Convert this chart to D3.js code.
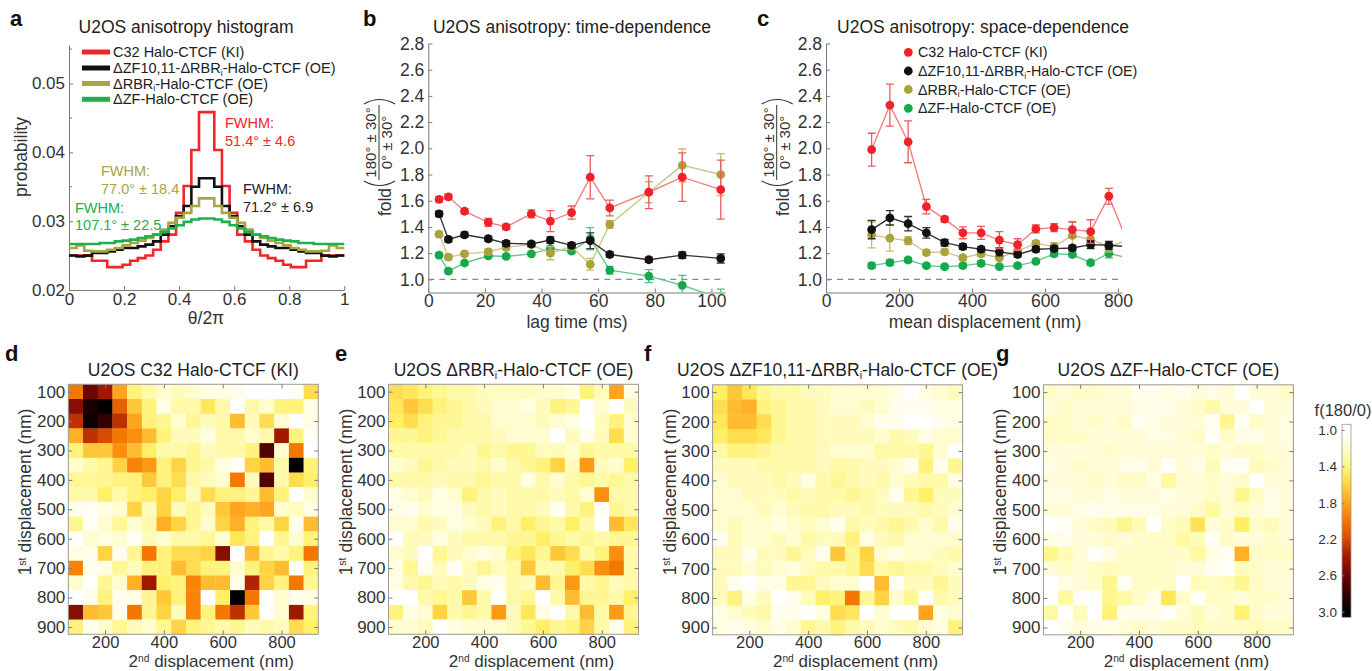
<!DOCTYPE html>
<html><head><meta charset="utf-8">
<script src="https://cdn.jsdelivr.net/npm/d3@7"></script>
<style>
body{margin:0;background:#fff}
svg{display:block}
text{font-family:"Liberation Sans",Arial,Helvetica,sans-serif}
</style>
</head><body>
<svg id="fig" width="1372" height="671"></svg>
<script>
// ---------------- DATA ----------------
// Panel a: histogram (36 bins over theta/2pi in [0,1])
const histRed = [0.02502,0.02502,0.02502,0.02424,0.02424,0.02332,0.02332,0.02366,0.02424,0.02463,0.02502,0.02585,0.02707,0.02805,0.03122,0.03512,0.04034,0.04585,
                 0.04585,0.04034,0.03512,0.03122,0.02805,0.02707,0.02585,0.02502,0.02463,0.02424,0.02366,0.02332,0.02332,0.02424,0.02424,0.02502,0.02502,0.02502];
const histBlack = [0.02502,0.02488,0.02500,0.02537,0.02537,0.02561,0.02585,0.02610,0.02610,0.02634,0.02659,0.02707,0.02805,0.02927,0.03073,0.03220,0.03500,0.03624,
                   0.03624,0.03500,0.03220,0.03073,0.02927,0.02805,0.02707,0.02659,0.02634,0.02610,0.02610,0.02585,0.02561,0.02537,0.02537,0.02500,0.02488,0.02502];
const histOlive = [0.02610,0.02649,0.02570,0.02561,0.02561,0.02585,0.02610,0.02649,0.02683,0.02717,0.02756,0.02805,0.02878,0.02976,0.03049,0.03120,0.03220,0.03332,
                   0.03332,0.03220,0.03120,0.03049,0.02976,0.02878,0.02805,0.02756,0.02717,0.02683,0.02649,0.02610,0.02585,0.02561,0.02561,0.02570,0.02649,0.02610];
const histGreen = [0.02668,0.02668,0.02668,0.02668,0.02683,0.02683,0.02707,0.02717,0.02732,0.02756,0.02780,0.02805,0.02844,0.02893,0.02941,0.02990,0.03024,0.03039,
                   0.03039,0.03024,0.02990,0.02941,0.02893,0.02844,0.02805,0.02780,0.02756,0.02732,0.02717,0.02707,0.02683,0.02683,0.02668,0.02668,0.02668,0.02668];
const histXTicks = [0, 0.2, 0.4, 0.6, 0.8, 1];
const histYTicks = [0.02, 0.03, 0.04, 0.05];

// Panel b: time dependence
const lagTimes = [3.8, 7.1, 12.8, 21.2, 27.5, 36.4, 43.1, 50.6, 57.2, 64.1, 77.9, 89.7, 103.3];
const redB = [1.61,1.63,1.52,1.435,1.40,1.50,1.445,1.51,1.78,1.545,1.665,1.78,1.685];
const redBErr = [0.02,0.02,0.02,0.03,0.02,0.03,0.08,0.05,0.165,0.06,0.125,0.185,0.225];
const blackB = [1.50,1.305,1.34,1.31,1.275,1.27,1.30,1.26,1.295,1.19,1.15,1.185,1.16];
const blackBErr = [0.02,0.02,0.02,0.02,0.02,0.02,0.025,0.02,0.06,0.02,0.02,0.025,0.035];
const oliveB = [1.345,1.17,1.195,1.21,1.245,1.265,1.20,1.25,1.115,1.42,1.665,1.87,1.80];
const oliveBErr = [0.02,0.02,0.02,0.02,0.02,0.02,0.05,0.02,0.045,0.03,0.08,0.125,0.16];
const greenB = [1.185,1.063,1.125,1.18,1.175,1.195,1.235,1.215,1.31,1.07,1.025,0.955,0.855];
const greenBErr = [0.015,0.015,0.015,0.015,0.015,0.015,0.015,0.015,0.085,0.03,0.05,0.075,0.07];
const lagTicks = [0, 20, 40, 60, 80, 100];
const foldTicks = [1.0, 1.2, 1.4, 1.6, 1.8, 2.0, 2.2, 2.4, 2.6, 2.8];

// Panel c: space dependence
const dispC = [125,175,225,275,325,375,425,475,525,575,625,675,725,775,825];
const redC = [1.99,2.33,2.05,1.555,1.46,1.355,1.355,1.30,1.265,1.385,1.395,1.38,1.365,1.635,1.29];
const redCErr = [0.125,0.16,0.16,0.055,0.02,0.045,0.05,0.065,0.045,0.03,0.03,0.06,0.09,0.06,0.05];
const blackC = [1.38,1.47,1.425,1.355,1.28,1.25,1.23,1.21,1.19,1.23,1.235,1.24,1.265,1.26,1.25];
const blackCErr = [0.07,0.055,0.055,0.04,0.025,0.02,0.02,0.03,0.02,0.02,0.02,0.02,0.03,0.03,0.03];
const oliveC = [1.34,1.315,1.295,1.205,1.21,1.165,1.195,1.165,1.215,1.275,1.25,1.335,1.305,1.25,1.30];
const oliveCErr = [0.1,0.1,0.03,0.02,0.02,0.02,0.02,0.02,0.02,0.02,0.03,0.1,0.06,0.04,0.04];
const greenC = [1.105,1.128,1.148,1.105,1.097,1.105,1.122,1.097,1.105,1.137,1.195,1.19,1.127,1.20,1.165];
const greenCErr = [0.02,0.02,0.02,0.015,0.015,0.015,0.02,0.015,0.015,0.015,0.02,0.02,0.02,0.035,0.02];
const dispTicks = [0, 200, 400, 600, 800];

// Heatmaps (rows: 1st displacement 100..900, cols: 2nd displacement 100..900)
const dispBins = [100,150,200,250,300,350,400,450,500,550,600,650,700,750,800,850,900];
const heatD = [
 [2.0,2.6,2.4,1.8,1.4,1.3,1.2,1.25,1.2,1.15,1.15,1.1,1.0,1.0,1.0,1.05,1.55],
 [2.5,2.9,3.0,2.1,1.65,1.4,1.15,1.3,1.3,1.5,1.3,1.0,1.3,1.2,1.4,1.4,1.15],
 [2.3,2.95,2.8,2.3,1.8,1.4,1.35,1.2,1.35,1.25,1.3,1.7,1.25,1.55,1.2,1.0,1.15],
 [1.75,2.3,2.2,2.0,1.9,1.7,1.4,1.25,1.25,1.15,1.3,1.3,1.2,1.3,2.4,1.4,1.05],
 [1.4,1.65,1.65,1.9,1.7,1.45,1.3,1.3,1.35,1.25,1.3,1.3,1.4,2.7,1.2,2.0,1.0],
 [1.2,1.3,1.35,1.6,1.95,1.85,1.4,1.6,1.35,1.3,1.15,1.05,1.6,1.7,1.3,3.0,1.4],
 [1.35,1.35,1.35,1.4,1.4,1.65,1.4,1.55,1.3,1.25,1.2,2.0,1.25,2.7,1.3,1.55,1.45],
 [1.3,1.3,1.45,1.3,1.4,1.45,1.6,1.45,1.25,1.55,1.4,1.4,1.35,1.7,1.4,1.0,1.2],
 [1.1,1.05,1.15,1.2,1.6,1.25,1.6,1.25,1.35,1.25,1.65,1.8,1.75,1.8,1.2,1.25,1.15],
 [1.35,1.05,1.2,1.35,1.2,1.3,1.75,1.6,1.35,1.2,1.6,1.75,1.4,1.3,1.6,1.1,1.7],
 [1.0,1.2,1.15,1.2,1.05,1.25,1.2,1.3,1.3,1.35,1.2,1.5,1.4,1.0,1.35,1.2,1.4],
 [1.15,1.1,1.6,1.1,1.35,2.0,1.4,1.55,1.55,1.6,2.5,1.0,1.7,1.35,1.3,1.4,2.0],
 [1.95,1.1,1.15,1.35,1.25,1.4,1.4,1.7,1.55,1.4,1.4,1.2,1.4,1.6,1.7,1.05,1.4],
 [1.2,1.0,1.35,1.2,1.75,2.4,1.45,1.4,1.95,1.7,1.7,1.15,2.35,1.6,1.4,2.0,1.35],
 [1.0,1.1,1.4,1.1,1.15,1.35,1.65,1.4,1.95,1.0,1.45,3.0,2.0,1.0,1.2,1.1,1.15],
 [2.5,1.7,1.65,1.1,2.0,1.35,1.6,1.25,1.95,1.4,2.0,2.3,1.65,1.0,1.2,2.4,1.4],
 [1.4,1.1,1.2,1.35,1.25,1.2,1.35,1.6,1.4,1.35,1.3,1.35,1.25,1.3,1.25,1.55,1.45]
];
const heatE = [
 [1.55,1.5,1.4,1.35,1.3,1.3,1.25,1.25,1.25,1.25,1.2,1.2,1.15,1.4,1.25,1.8,1.15],
 [1.5,1.65,1.55,1.4,1.35,1.3,1.25,1.2,1.2,1.15,1.25,1.4,1.35,1.0,1.2,1.0,1.25],
 [1.45,1.55,1.4,1.35,1.35,1.3,1.3,1.2,1.2,1.2,1.25,1.2,1.15,1.0,1.25,1.4,1.2],
 [1.35,1.35,1.4,1.35,1.3,1.3,1.3,1.25,1.2,1.2,1.2,1.0,1.25,1.1,1.25,1.55,1.2],
 [1.3,1.3,1.3,1.3,1.3,1.25,1.35,1.3,1.35,1.35,1.25,1.25,1.2,1.35,1.3,1.3,1.3],
 [1.2,1.25,1.35,1.3,1.25,1.25,1.3,1.2,1.3,1.35,1.4,1.6,1.25,1.85,1.25,1.2,1.45],
 [1.3,1.3,1.3,1.25,1.3,1.3,1.35,1.3,1.3,1.15,1.3,1.2,1.3,1.35,1.3,1.35,1.3],
 [1.15,1.2,1.25,1.15,1.2,1.4,1.3,1.25,1.3,1.3,1.3,1.25,1.3,1.2,1.9,1.3,1.3],
 [1.15,1.1,1.2,1.15,1.15,1.25,1.3,1.25,1.3,1.3,1.25,1.1,1.3,1.4,1.05,1.35,1.3],
 [1.2,1.2,1.3,1.25,1.15,1.2,1.25,1.4,1.3,1.45,1.35,1.3,1.45,1.3,1.0,1.7,1.5],
 [1.0,1.25,1.25,1.15,1.25,1.3,1.3,1.3,1.35,1.35,1.45,1.35,1.3,1.35,1.3,1.35,1.35],
 [1.2,1.25,1.0,1.35,1.25,1.2,1.15,1.2,1.4,1.5,1.35,1.65,1.55,1.3,1.4,1.9,1.3],
 [1.15,1.35,1.1,1.25,1.05,1.25,1.35,1.25,1.3,1.65,1.3,1.3,1.45,1.55,1.9,2.0,1.3],
 [1.15,1.3,1.35,1.25,1.3,1.25,1.15,1.1,1.3,1.25,1.7,1.35,1.85,1.3,1.35,1.25,1.3],
 [1.0,1.0,1.3,1.35,1.3,1.65,1.3,1.0,1.3,1.35,1.0,1.3,1.7,1.35,1.35,1.3,1.45],
 [1.4,1.15,1.2,1.6,1.3,1.35,1.3,1.85,1.25,1.5,1.15,1.0,1.3,1.7,1.3,1.85,1.35],
 [1.2,1.2,1.25,1.0,1.15,1.2,1.2,1.2,1.25,1.35,1.45,1.35,1.4,1.6,1.3,1.1,1.4]
];
const heatF = [
 [1.45,1.65,1.5,1.35,1.3,1.3,1.25,1.25,1.2,1.2,1.2,1.2,1.15,1.0,1.15,1.2,1.25],
 [1.55,1.7,1.75,1.4,1.35,1.3,1.3,1.25,1.2,1.2,1.25,1.2,1.1,1.1,1.1,1.15,1.15],
 [1.5,1.7,1.7,1.55,1.35,1.3,1.3,1.25,1.25,1.25,1.2,1.1,1.1,1.0,1.0,1.1,1.15],
 [1.45,1.55,1.55,1.5,1.35,1.3,1.3,1.25,1.25,1.25,1.25,1.2,1.3,1.25,1.15,1.2,1.2],
 [1.3,1.4,1.4,1.35,1.3,1.3,1.3,1.25,1.2,1.2,1.2,1.3,1.3,1.3,1.35,1.2,1.0],
 [1.25,1.25,1.25,1.3,1.3,1.3,1.3,1.25,1.3,1.3,1.25,1.25,1.2,1.1,1.4,1.1,1.35],
 [1.2,1.25,1.25,1.25,1.3,1.25,1.15,1.3,1.35,1.3,1.25,1.3,1.2,1.25,1.3,1.3,1.15],
 [1.2,1.2,1.25,1.25,1.25,1.3,1.25,1.3,1.3,1.35,1.3,1.25,1.1,1.35,1.45,1.25,1.25],
 [1.2,1.2,1.2,1.25,1.2,1.25,1.3,1.3,1.25,1.25,1.3,1.25,1.25,1.25,1.3,1.25,1.2],
 [1.2,1.25,1.2,1.2,1.15,1.2,1.25,1.2,1.1,1.3,1.25,1.3,1.35,1.3,1.2,1.3,1.1],
 [1.05,1.25,1.2,1.2,1.25,1.2,1.3,1.25,1.25,1.4,1.15,1.25,1.3,1.2,1.2,1.2,1.2],
 [1.25,1.25,1.1,1.25,1.25,1.35,1.25,1.1,1.65,1.35,1.6,1.2,1.15,1.2,1.2,1.25,1.3],
 [1.25,1.25,1.2,1.25,1.2,1.15,1.25,1.3,1.3,1.35,1.55,1.3,1.35,1.3,1.3,1.25,1.2],
 [1.25,1.1,1.0,1.15,1.15,1.35,1.35,1.25,1.2,1.2,1.0,1.7,1.05,1.25,1.25,1.35,1.25],
 [1.25,1.4,1.15,1.25,1.0,1.1,1.25,1.45,1.4,2.0,1.35,1.6,1.2,1.35,1.05,1.3,1.25],
 [1.15,1.2,1.25,1.3,1.1,1.1,1.0,1.15,1.55,1.5,1.0,1.2,1.0,1.0,1.8,1.15,1.2],
 [1.15,1.1,1.15,1.2,1.15,1.2,1.35,1.3,1.4,1.3,1.25,1.2,1.25,1.3,1.2,1.15,1.4]
];
const heatG = [
 [1.22,1.18,1.22,1.22,1.18,1.18,1.1,1.1,1.14,1.1,1.18,1.14,1.18,1.0,1.18,1.18,1.22],
 [1.18,1.22,1.18,1.18,1.18,1.18,1.14,1.12,1.12,1.18,1.22,1.3,1.18,1.18,1.02,1.18,1.18],
 [1.22,1.22,1.18,1.22,1.18,1.22,1.06,1.14,1.18,1.18,1.18,1.08,1.36,1.05,1.22,1.18,1.15],
 [1.22,1.22,1.22,1.18,1.18,1.18,1.18,1.14,1.14,1.18,1.22,1.06,1.22,1.14,1.14,1.18,1.15],
 [1.18,1.18,1.18,1.18,1.22,1.18,1.18,1.18,1.18,1.18,1.18,1.22,1.18,1.22,1.22,1.18,1.18],
 [1.14,1.18,1.22,1.18,1.18,1.14,1.1,1.18,1.03,1.18,1.14,1.26,1.06,1.04,1.26,1.22,1.18],
 [1.18,1.18,1.18,1.22,1.18,1.22,1.22,1.14,1.32,1.18,1.18,1.22,1.18,1.22,1.0,1.18,1.18],
 [1.14,1.14,1.18,1.18,1.14,1.18,1.18,1.18,1.14,1.18,1.18,1.22,1.18,1.36,1.22,1.14,1.18],
 [1.18,1.18,1.14,1.1,1.14,1.14,1.14,1.14,1.18,1.18,1.22,1.32,1.18,1.22,1.18,1.14,1.18],
 [1.0,1.06,1.18,1.22,1.26,1.36,1.26,1.03,1.22,1.26,1.52,1.18,1.22,1.46,1.22,1.26,1.18],
 [1.14,1.1,1.18,1.18,1.22,1.18,1.22,1.22,1.22,1.32,1.26,1.06,1.22,1.18,1.18,1.22,1.18],
 [1.36,1.26,1.18,1.03,1.14,1.22,1.22,1.22,1.22,1.22,1.32,1.14,1.06,1.75,1.22,1.22,1.22],
 [1.18,1.22,1.18,1.22,1.26,1.22,1.22,1.22,1.22,1.18,1.18,1.1,1.03,1.26,1.22,1.18,1.18],
 [1.0,1.14,1.18,1.22,1.36,1.06,1.22,1.22,1.22,1.0,1.26,1.22,1.26,1.36,1.22,1.18,1.18],
 [1.0,1.32,1.03,1.03,1.36,1.32,1.22,1.14,1.5,1.22,1.06,1.22,1.22,1.18,1.22,1.22,1.18],
 [1.32,1.0,1.26,1.0,1.42,1.1,1.1,1.14,1.0,1.18,1.26,1.18,1.22,1.42,1.22,1.18,1.18],
 [1.0,1.1,1.18,1.14,1.14,1.18,1.22,1.18,1.22,1.22,1.26,1.22,1.22,1.22,1.26,1.22,1.22]
];
const heatYTicks = [100,200,300,400,500,600,700,800,900];
const heatXTicks = [200,400,600,800];
const cbTicks = [1.0,1.4,1.8,2.2,2.6,3.0];

// ---------------- STYLE ----------------
const C = {
  red:{dot:"#ee2229", line:"#f27f80", err:"#ef5a5e", hist:"#f0262b"},
  black:{dot:"#111111", line:"#333333", err:"#333333", hist:"#111111"},
  olive:{dot:"#a9a33c", line:"#cbc68c", err:"#c2bc75", hist:"#aaa445"},
  green:{dot:"#16a94c", line:"#62c98c", err:"#4fc07e", hist:"#22b04e"}
};
const AX = "#7a7a7a", TX = "#333";
const svg = d3.select("#fig");

function rich(sel, segs){
  segs.forEach((s,i)=>{
    const t = sel.append("tspan").text(s[0]);
    if (s[1]==="sub") t.attr("font-size","0.6em").attr("dy","0.3em");
    else if (s[1]==="sup") t.attr("font-size","0.6em").attr("dy","-0.5em");
    else if (i>0 && segs[i-1][1]==="sub") t.attr("dy","-0.18em");
    else if (i>0 && segs[i-1][1]==="sup") t.attr("dy","0.3em");
  });
  return sel;
}
function styleAxis(g, fs){
  g.attr("font-size", null).attr("font-family", null);
  g.select(".domain").attr("stroke", AX).attr("stroke-width", 1);
  g.selectAll(".tick line").attr("stroke", AX);
  g.selectAll(".tick text").attr("fill", TX).style("font-size", fs+"px");
}
function letter(x, y, t){
  svg.append("text").attr("x",x).attr("y",y).attr("font-weight","bold").style("font-size","22px").attr("fill","#111").text(t);
}
function title(x, y, segs){
  rich(svg.append("text").attr("x",x).attr("y",y).attr("text-anchor","middle").style("font-size","17.5px").attr("fill","#222"), segs);
}

// ---------------- PANEL A ----------------
const xA = d3.scaleLinear().domain([0,1]).range([69,344.3]);
const yA = d3.scaleLinear().domain([0.02,0.0556]).range([290,45]);
letter(10, 26, "a");
title(186, 33, [["U2OS anisotropy histogram",""]]);
const gAx = svg.append("g").attr("transform","translate(0,290)")
  .call(d3.axisBottom(xA).tickValues(histXTicks).tickSizeInner(-4).tickSizeOuter(0).tickPadding(3)
    .tickFormat(d=> d===0?"0":d===1?"1":d3.format(".1f")(d)));
styleAxis(gAx, 17);
const gAy = svg.append("g").attr("transform","translate(69,0)")
  .call(d3.axisLeft(yA).tickValues(histYTicks).tickSizeInner(-4).tickSizeOuter(0).tickPadding(4).tickFormat(d3.format(".2f")));
styleAxis(gAy, 17);
[0.025,0.035,0.045,0.055].forEach(v=>{
  svg.append("line").attr("x1",69).attr("x2",72).attr("y1",yA(v)).attr("y2",yA(v)).attr("stroke",AX);
});
svg.append("text").attr("transform","translate(27,157) rotate(-90)").attr("text-anchor","middle").style("font-size","17.5px").attr("fill",TX).text("probability");
svg.append("text").attr("x",206).attr("y",324).attr("text-anchor","middle").style("font-size","17.5px").attr("fill",TX).text("θ/2π");

const nb = histRed.length;
const stepLine = d3.line().x(d=>xA(d[0])).y(d=>yA(d[1])).curve(d3.curveStepAfter);
function histPts(arr){ const p = arr.map((v,i)=>[i/nb, v]); p.push([1, arr[nb-1]]); return p; }
[[histRed,C.red.hist],[histBlack,C.black.hist],[histOlive,C.olive.hist],[histGreen,C.green.hist]].forEach(([arr,col])=>{
  svg.append("path").attr("d", stepLine(histPts(arr))).attr("fill","none").attr("stroke",col).attr("stroke-width",2.6).attr("stroke-linejoin","miter");
});
const legA = [
  [C.red.hist, [["C32 Halo-CTCF (KI)",""]]],
  [C.black.hist, [["ΔZF10,11-ΔRBR",""],["i","sub"],["-Halo-CTCF (OE)",""]]],
  [C.olive.hist, [["ΔRBR",""],["i","sub"],["-Halo-CTCF (OE)",""]]],
  [C.green.hist, [["ΔZF-Halo-CTCF (OE)",""]]]
];
const legAY = [52, 68, 83.5, 99.3];
legA.forEach((l,i)=>{
  svg.append("line").attr("x1",82).attr("x2",110).attr("y1",legAY[i]).attr("y2",legAY[i]).attr("stroke",l[0]).attr("stroke-width",5);
  rich(svg.append("text").attr("x",113).attr("y",legAY[i]+5).style("font-size","14.5px").attr("fill","#222"), l[1]);
});
function fw(x, y, col, t2){
  svg.append("text").attr("x",x).attr("y",y).style("font-size","14.5px").attr("fill",col).text("FWHM:");
  svg.append("text").attr("x",x).attr("y",y+17.5).style("font-size","14.5px").attr("fill",col).text(t2);
}
fw(225, 128, C.red.hist, "51.4° ± 4.6");
fw(101, 176, C.olive.hist, "77.0° ± 18.4");
fw(75, 212.5, C.green.hist, "107.1° ± 22.5");
fw(243, 194, "#222", "71.2° ± 6.9");

// ---------------- PANELS B & C ----------------
function foldLabel(cx, cy){
  const g = svg.append("g").attr("transform",`translate(${cx},${cy}) rotate(-90)`);
  g.append("text").attr("x",-45).attr("y",12).attr("text-anchor","middle").style("font-size","17.5px").attr("fill",TX).text("fold");
  g.append("text").attr("x",14.5).attr("y",-3).attr("text-anchor","middle").style("font-size","15px").attr("fill",TX).text("180° ± 30°");
  g.append("line").attr("x1",-23).attr("x2",52).attr("y1",0).attr("y2",0).attr("stroke",TX).attr("stroke-width",1);
  g.append("text").attr("x",14.5).attr("y",13).attr("text-anchor","middle").style("font-size","15px").attr("fill",TX).text("0° ± 30°");
  g.append("path").attr("d","M -24,-15 Q -33,0.5 -24,16").attr("fill","none").attr("stroke",TX).attr("stroke-width",1.2);
  g.append("path").attr("d","M 53,-15 Q 62,0.5 53,16").attr("fill","none").attr("stroke",TX).attr("stroke-width",1.2);
}
function linePanel(opts){
  const {x, y, xTicks, clipId, series, titleX, titleText, xLabel, xLabelX, foldX} = opts;
  const [x0,x1] = x.range(), [yb,yt] = y.range();
  svg.append("defs").append("clipPath").attr("id",clipId).append("rect")
    .attr("x",x0).attr("y",yt-6).attr("width",x1-x0).attr("height",yb-yt+6);
  const gx = svg.append("g").attr("transform",`translate(0,${yb})`)
    .call(d3.axisBottom(x).tickValues(xTicks).tickSizeInner(-4).tickSizeOuter(0).tickPadding(2));
  styleAxis(gx, 17.5);
  const gy = svg.append("g").attr("transform",`translate(${x0},0)`)
    .call(d3.axisLeft(y).tickValues(foldTicks).tickSizeInner(-4).tickSizeOuter(0).tickPadding(4).tickFormat(d3.format(".1f")));
  styleAxis(gy, 17.5);
  svg.append("line").attr("x1",x0).attr("x2",x1).attr("y1",y(1)).attr("y2",y(1))
    .attr("stroke","#8a8a8a").attr("stroke-width",1.3).attr("stroke-dasharray","6,5");
  title(titleX, 33, [[titleText,""]]);
  svg.append("text").attr("x",xLabelX).attr("y",328).attr("text-anchor","middle").style("font-size","17.5px").attr("fill",TX).text(xLabel);
  foldLabel(foldX, 157);
  const g = svg.append("g").attr("clip-path",`url(#${clipId})`);
  const ln = d3.line().x(d=>x(d.x)).y(d=>y(d.y));
  series.forEach(s=>{
    const pts = s.xs.map((xx,i)=>({x:xx, y:s.ys[i], e:s.es[i]}));
    g.append("path").datum(pts).attr("d",ln).attr("fill","none").attr("stroke",s.col.line).attr("stroke-width",1.4);
    const eb = g.append("g");
    pts.forEach(p=>{
      eb.append("line").attr("x1",x(p.x)).attr("x2",x(p.x)).attr("y1",y(p.y-p.e)).attr("y2",y(p.y+p.e)).attr("stroke",s.col.err).attr("stroke-width",1.3);
      [p.y-p.e, p.y+p.e].forEach(v=>{
        eb.append("line").attr("x1",x(p.x)-4).attr("x2",x(p.x)+4).attr("y1",y(v)).attr("y2",y(v)).attr("stroke",s.col.err).attr("stroke-width",1.3);
      });
    });
    g.selectAll(null).data(pts).enter().append("circle")
      .attr("cx",d=>x(d.x)).attr("cy",d=>y(d.y)).attr("r",4.4).attr("fill",s.col.dot);
  });
}
letter(363, 26, "b");
const xB = d3.scaleLinear().domain([0,104.8]).range([428.3,725]);
const yB = d3.scaleLinear().domain([0.9,2.8]).range([292.5,43.5]);
linePanel({x:xB, y:yB, xTicks:lagTicks, clipId:"clipB", titleX:572, titleText:"U2OS anisotropy: time-dependence",
  xLabel:"lag time (ms)", xLabelX:577, foldX:379,
  series:[
    {xs:lagTimes, ys:greenB, es:greenBErr, col:C.green},
    {xs:lagTimes, ys:oliveB, es:oliveBErr, col:C.olive},
    {xs:lagTimes, ys:blackB, es:blackBErr, col:C.black},
    {xs:lagTimes, ys:redB, es:redBErr, col:C.red}
  ]});
letter(757, 26, "c");
const xC = d3.scaleLinear().domain([0,811]).range([826,1122]);
const yC = d3.scaleLinear().domain([0.9,2.8]).range([292.5,43.5]);
linePanel({x:xC, y:yC, xTicks:dispTicks, clipId:"clipC", titleX:983, titleText:"U2OS anisotropy: space-dependence",
  xLabel:"mean displacement (nm)", xLabelX:985, foldX:776.7,
  series:[
    {xs:dispC, ys:greenC, es:greenCErr, col:C.green},
    {xs:dispC, ys:oliveC, es:oliveCErr, col:C.olive},
    {xs:dispC, ys:blackC, es:blackCErr, col:C.black},
    {xs:dispC, ys:redC, es:redCErr, col:C.red}
  ]});
const legC = [
  [C.red.dot, [["C32 Halo-CTCF (KI)",""]]],
  [C.black.dot, [["ΔZF10,11-ΔRBR",""],["i","sub"],["-Halo-CTCF (OE)",""]]],
  [C.olive.dot, [["ΔRBR",""],["i","sub"],["-Halo-CTCF (OE)",""]]],
  [C.green.dot, [["ΔZF-Halo-CTCF (OE)",""]]]
];
const legCY = [52.3, 71, 89.5, 108.3];
legC.forEach((l,i)=>{
  svg.append("circle").attr("cx",908.3).attr("cy",legCY[i]).attr("r",4.4).attr("fill",l[0]);
  rich(svg.append("text").attr("x",918).attr("y",legCY[i]+5).style("font-size","14.3px").attr("fill","#222"), l[1]);
});

// ---------------- HEATMAPS ----------------
const cmapStops = [1.0,1.15,1.3,1.45,1.6,1.8,2.0,2.2,2.4,2.6,2.8,3.0];
const cmapColors = ["#ffffff","#fffde2","#fffaaa","#fff068","#ffd444","#ffa41c","#f47800","#d84a00","#a01800","#6a0500","#350000","#000000"];
const cmap = d3.scaleLinear().domain(cmapStops).range(cmapColors).interpolate(d3.interpolateRgb).clamp(true);

function heatmap(left, top, data, letterText, letterX, titleSegs){
  const size = 250;
  const x = d3.scaleLinear().domain([75,925]).range([left, left+size]);
  const y = d3.scaleLinear().domain([75,925]).range([top, top+size]);
  const g = svg.append("g");
  data.forEach((row,ri)=>{
    g.selectAll(null).data(row).enter().append("rect")
      .attr("x",(d,ci)=>x(dispBins[ci]-25)).attr("y",y(dispBins[ri]-25))
      .attr("width",(d,ci)=>x(dispBins[ci]+25)-x(dispBins[ci]-25)+0.3)
      .attr("height",y(dispBins[ri]+25)-y(dispBins[ri]-25)+0.3)
      .attr("fill",d=>cmap(d));
  });
  svg.append("rect").attr("x",left).attr("y",top).attr("width",size).attr("height",size)
    .attr("fill","none").attr("stroke","#9a9a9a").attr("stroke-width",1);
  const gl = svg.append("g").attr("transform",`translate(${left},0)`)
    .call(d3.axisLeft(y).tickValues(heatYTicks).tickSizeInner(-4).tickSizeOuter(0).tickPadding(3));
  styleAxis(gl, 17); gl.select(".domain").remove();
  const gr = svg.append("g").attr("transform",`translate(${left+size},0)`)
    .call(d3.axisRight(y).tickValues(heatYTicks).tickSizeInner(-4).tickSizeOuter(0).tickFormat(""));
  styleAxis(gr, 17); gr.select(".domain").remove();
  const gb = svg.append("g").attr("transform",`translate(0,${top+size})`)
    .call(d3.axisBottom(x).tickValues(heatXTicks).tickSizeInner(-4).tickSizeOuter(0).tickPadding(1.5));
  styleAxis(gb, 16.5); gb.select(".domain").remove();
  const gt = svg.append("g").attr("transform",`translate(0,${top})`)
    .call(d3.axisTop(x).tickValues(heatXTicks).tickSizeInner(-4).tickSizeOuter(0).tickFormat(""));
  styleAxis(gt, 17); gt.select(".domain").remove();
  letter(letterX, 361, letterText);
  title(left+size/2, 376, titleSegs);
  rich(svg.append("text").attr("x",left+size/2+18).attr("y",667).attr("text-anchor","middle").style("font-size","17px").attr("fill",TX),
    [["2",""],["nd","sup"],[" displacement (nm)",""]]);
  rich(svg.append("text").attr("transform",`translate(${left-37},492) rotate(-90)`).attr("text-anchor","middle").style("font-size","17.5px").attr("fill",TX),
    [["1",""],["st","sup"],[" displacement (nm)",""]]);
}
heatmap(68.3, 384.3, heatD, "d", 5, [["U2OS C32 Halo-CTCF (KI)",""]]);
heatmap(388.5, 384.3, heatE, "e", 335, [["U2OS ΔRBR",""],["i","sub"],["-Halo-CTCF (OE)",""]]);
heatmap(712.6, 384.8, heatF, "f", 644, [["U2OS ΔZF10,11-ΔRBR",""],["i","sub"],["-Halo-CTCF (OE)",""]]);
heatmap(1043.4, 384.8, heatG, "g", 996, [["U2OS ΔZF-Halo-CTCF (OE)",""]]);

// ---------------- COLORBAR ----------------
const cbY = d3.scaleLinear().domain([1.0,3.0]).range([430,611.7]);
const cbLo = cbY.invert(424.3), cbHi = cbY.invert(617.3);
const grad = svg.append("defs").append("linearGradient").attr("id","cbGrad").attr("x1",0).attr("y1",0).attr("x2",0).attr("y2",1);
d3.range(0,1.0001,0.02).forEach(t=>{
  grad.append("stop").attr("offset",t).attr("stop-color",cmap(cbLo + t*(cbHi-cbLo)));
});
svg.append("rect").attr("x",1342).attr("y",cbY(cbLo)).attr("width",9).attr("height",cbY(cbHi)-cbY(cbLo))
  .attr("fill","url(#cbGrad)").attr("stroke","#9a9a9a").attr("stroke-width",0.8);
const gcb = svg.append("g").attr("transform","translate(1342,0)")
  .call(d3.axisLeft(cbY).tickValues(cbTicks).tickSizeInner(-2.5).tickSizeOuter(0).tickPadding(5).tickFormat(d3.format(".1f")));
styleAxis(gcb, 13.5); gcb.select(".domain").remove();
svg.append("text").attr("x",1343).attr("y",416).attr("text-anchor","middle").style("font-size","16.5px").attr("fill",TX).text("f(180/0)");
</script>
</body></html>
